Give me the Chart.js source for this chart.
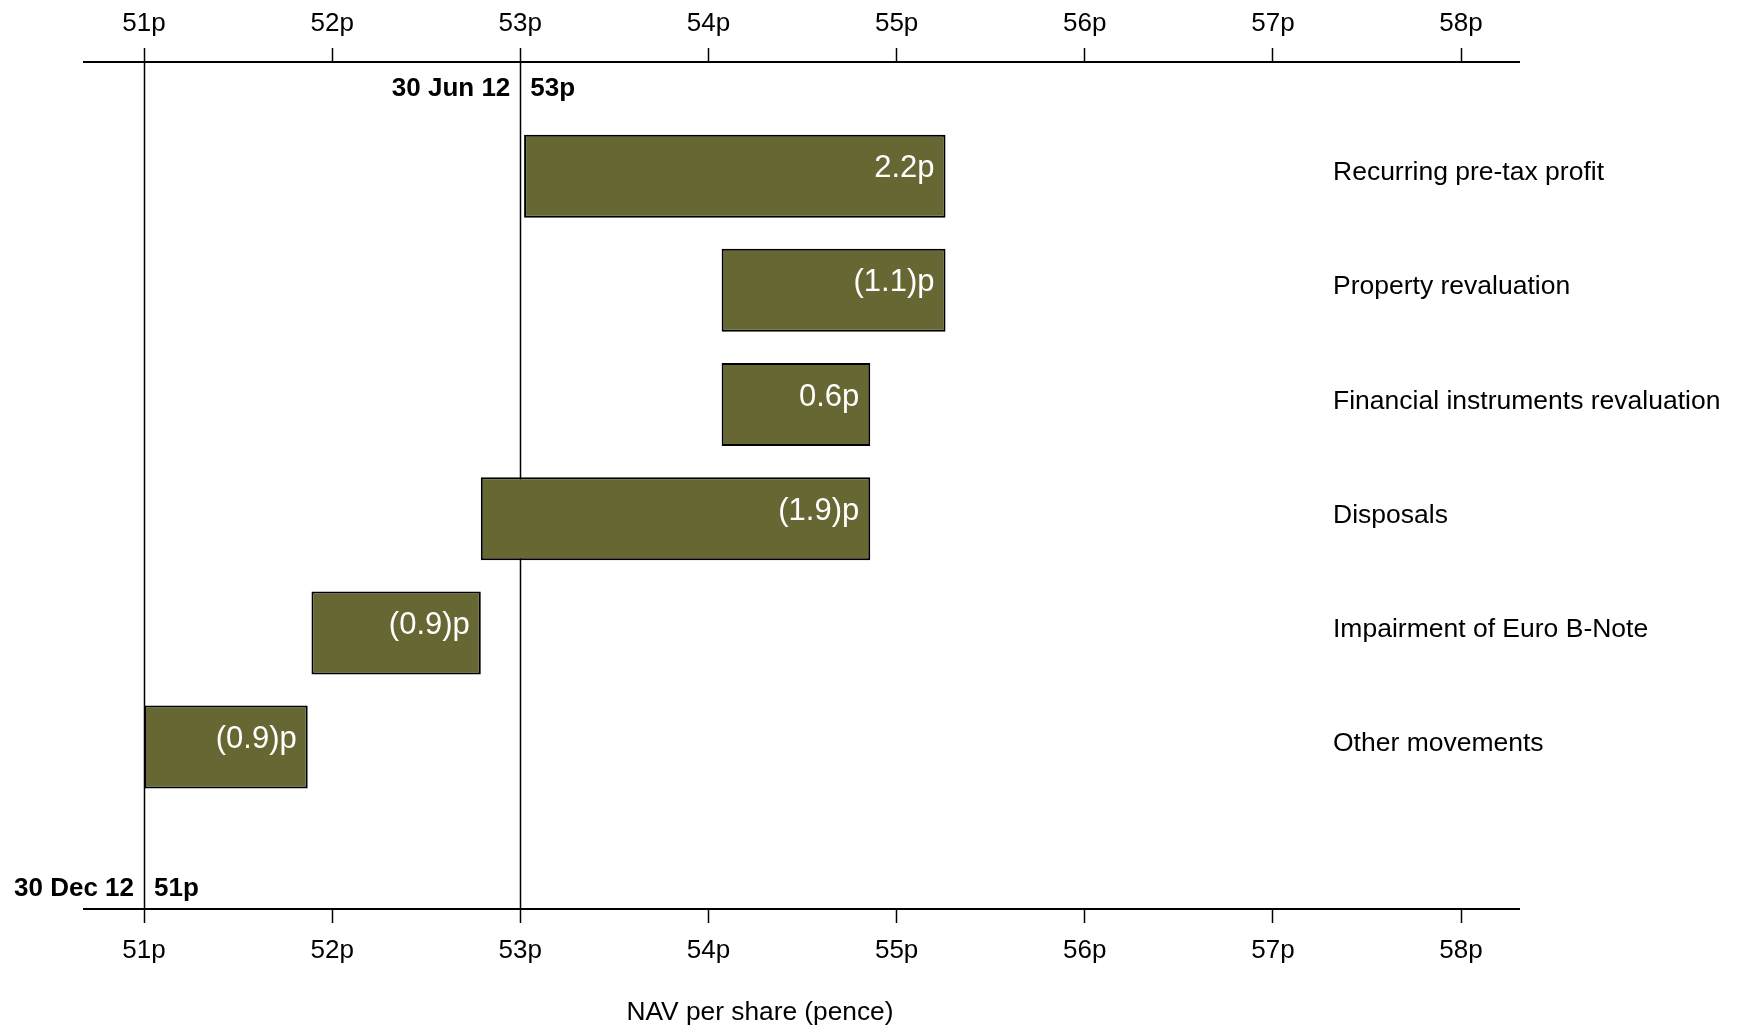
<!DOCTYPE html>
<html>
<head>
<meta charset="utf-8">
<script src="https://cdn.jsdelivr.net/npm/chart.js@4/dist/chart.umd.min.js"></script>
<style>
  html, body { margin: 0; padding: 0; background: #ffffff; }
  #wrap { width: 1739px; height: 1029px; position: relative; }
</style>
</head>
<body>
<div id="wrap"><canvas id="c" width="1739" height="1029"></canvas></div>
<script>
// ---------------- data ----------------
const categories = [
  'Recurring pre-tax profit',
  'Property revaluation',
  'Financial instruments revaluation',
  'Disposals',
  'Impairment of Euro B-Note',
  'Other movements'
];
const barStarts = [53.02, 54.07, 54.07, 52.79, 51.89, 51.00];
const barEnds   = [55.26, 55.26, 54.86, 54.86, 52.79, 51.87];
const valueLabels = ['2.2p', '(1.1)p', '0.6p', '(1.9)p', '(0.9)p', '(0.9)p'];

const tickValues = [51, 52, 53, 54, 55, 56, 57, 58];
const tickLabels = ['51p', '52p', '53p', '54p', '55p', '56p', '57p', '58p'];

const markerValues = [53, 51];
const markerDates  = ['30 Jun 12', '30 Dec 12'];
const markerLabels = ['53p', '51p'];

const axisTitle = 'NAV per share (pence)';

// ---------------- styles ----------------
const FONT = 'Arial, "Liberation Sans", Helvetica, sans-serif';
const BAR_COLOR = '#676733';
const X_MIN = 50.681, X_MAX = 58.308;

const barData = categories.map((c, i) => ({ x: [barStarts[i], barEnds[i]], y: i }));

const setTicks = (scale) => { scale.ticks = tickValues.map(v => ({ value: v })); };
const setCatTicks = (scale) => { scale.ticks = categories.map((c, i) => ({ value: i })); };
const tickCb = (value) => { const k = tickValues.indexOf(value); return k >= 0 ? tickLabels[k] : ''; };

const overlayPlugin = {
  id: 'overlay',
  beforeDatasetsDraw(chart) {
    const ctx = chart.ctx, xs = chart.scales.x, area = chart.chartArea;
    ctx.save();
    ctx.strokeStyle = '#000';
    ctx.lineWidth = 1.5;
    markerValues.forEach(v => {
      const px = Math.round(xs.getPixelForValue(v)) + 0.5;
      ctx.beginPath();
      ctx.moveTo(px, area.top);
      ctx.lineTo(px, area.bottom);
      ctx.stroke();
    });
    ctx.restore();
  },
  afterDatasetsDraw(chart) {
    const ctx = chart.ctx, xs = chart.scales.x, ys = chart.scales.y, area = chart.chartArea;
    ctx.save();
    ctx.font = '31px ' + FONT;
    ctx.fillStyle = '#ffffff';
    ctx.textAlign = 'right';
    ctx.textBaseline = 'alphabetic';
    const meta = chart.getDatasetMeta(0);
    meta.data.forEach((bar, i) => {
      const right = Math.max(bar.x, bar.base);
      ctx.fillText(valueLabels[i], right - 11, bar.y + 1);
    });
    ctx.font = '26.5px ' + FONT;
    ctx.fillStyle = '#000';
    ctx.textAlign = 'left';
    categories.forEach((c, i) => {
      ctx.fillText(c, 1333, ys.getPixelForValue(i) + 4);
    });
    ctx.font = 'bold 26px ' + FONT;
    markerValues.forEach((v, k) => {
      const px = xs.getPixelForValue(v);
      const y = k === 0 ? area.top + 34 : area.bottom - 13;
      ctx.textAlign = 'right';
      ctx.fillText(markerDates[k], px - 10, y);
      ctx.textAlign = 'left';
      ctx.fillText(markerLabels[k], px + 10, y);
    });
    ctx.font = '26.3px ' + FONT;
    ctx.textAlign = 'center';
    ctx.fillText(axisTitle, 760, 1020);
    ctx.restore();
  }
};

new Chart(document.getElementById('c'), {
  type: 'bar',
  data: {
    datasets: [{
      data: barData,
      backgroundColor: BAR_COLOR,
      borderColor: '#000000',
      borderWidth: 2,
      borderSkipped: false,
      categoryPercentage: 1,
      barPercentage: 0.727,
      xAxisID: 'x',
      yAxisID: 'y'
    }]
  },
  options: {
    indexAxis: 'y',
    responsive: false,
    animation: false,
    events: [],
    layout: { padding: { top: -1.2, bottom: 50.8, left: 84, right: 220 } },
    plugins: { legend: { display: false }, tooltip: { enabled: false } },
    scales: {
      y: {
        type: 'linear',
        display: false,
        reverse: true,
        offset: false,
        grid: { offset: false },
        min: -1.0,
        max: 6.418,
        afterBuildTicks: setCatTicks
      },
      x: {
        type: 'linear',
        position: 'bottom',
        min: X_MIN,
        max: X_MAX,
        afterBuildTicks: setTicks,
        border: { display: true, color: '#000', width: 2 },
        grid: { drawOnChartArea: false, drawTicks: true, tickLength: 14, tickColor: '#000', tickWidth: 1.5 },
        ticks: { callback: tickCb, color: '#000', padding: 12, font: { family: FONT, size: 26 }, maxRotation: 0, autoSkip: false }
      },
      x2: {
        type: 'linear',
        position: 'top',
        min: X_MIN,
        max: X_MAX,
        afterBuildTicks: setTicks,
        border: { display: true, color: '#000', width: 2 },
        grid: { drawOnChartArea: false, drawTicks: true, tickLength: 14, tickColor: '#000', tickWidth: 1.5 },
        ticks: { callback: tickCb, color: '#000', padding: 9, font: { family: FONT, size: 26 }, maxRotation: 0, autoSkip: false }
      }
    }
  },
  plugins: [overlayPlugin]
});
</script>
</body>
</html>
